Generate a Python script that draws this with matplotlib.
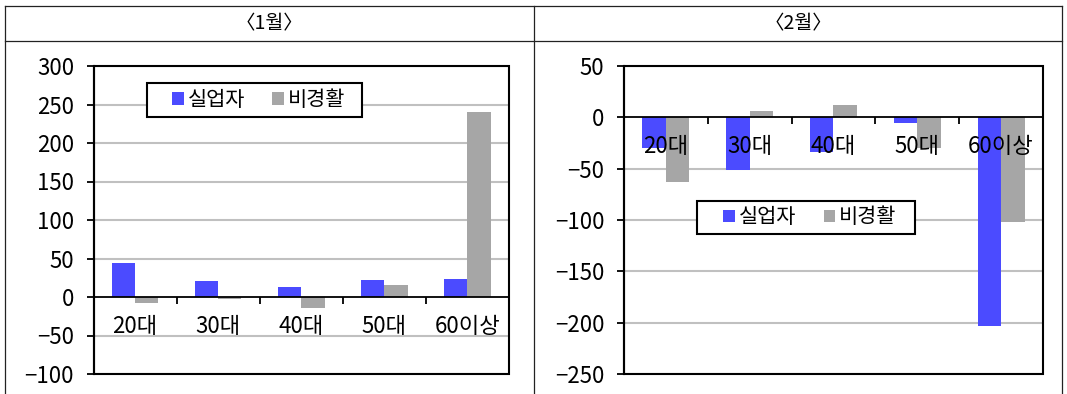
import numpy as np
import matplotlib
matplotlib.use("Agg")
import matplotlib.pyplot as plt
from matplotlib.lines import Line2D
from matplotlib.patches import Rectangle
from matplotlib.ticker import FixedLocator, NullFormatter

plt.rcParams['font.family'] = ['Noto Sans CJK KR', 'DejaVu Sans']
plt.rcParams['axes.unicode_minus'] = True

# data
categories = ["20대", "30대", "40대", "50대", "60이상"]
series_names = ["실업자", "비경활"]
jan_unemployed = [44, 21, 13, 22, 23]
jan_inactive = [-8, -2, -14, 16, 240]
feb_unemployed = [-30, -51, -34, -6, -203]
feb_inactive = [-63, 6, 12, -30, -102]
panel_titles = ["〈1월〉", "〈2월〉"]

BLUE = "#4b4bff"
GRAY = "#a6a6a6"

W, H = 1067, 394
fig = plt.figure(figsize=(W / 100, H / 100), dpi=100)


def px_axes(x0, x1, y0, y1):
    # pixel box -> figure fraction
    return fig.add_axes([x0 / W, 1 - y1 / H, (x1 - x0) / W, (y1 - y0) / H])


def draw_panel(ax, unemp, inact, ylim, step, legend_box):
    x = np.arange(len(categories))
    bw = 0.28
    ax.bar(x - bw / 2, unemp, bw, color=BLUE, label=series_names[0], zorder=2)
    ax.bar(x + bw / 2, inact, bw, color=GRAY, label=series_names[1], zorder=2)
    ax.set_xlim(-0.5, len(categories) - 0.5)
    ax.set_ylim(*ylim)
    yt = np.arange(ylim[0], ylim[1] + step, step)
    ax.set_yticks(yt)
    for v in yt:
        if v != 0:
            ax.axhline(v, color="#c0c0c0", lw=1.5, zorder=0)
    ax.set_axisbelow(False)

    # category axis sits on the zero line
    ax.spines['bottom'].set_position(('data', 0))
    ax.spines['bottom'].set_linewidth(1.3)
    ax.spines['bottom'].set_zorder(3)
    for s in ['top', 'right']:
        ax.spines[s].set_visible(False)
    ax.spines['left'].set_linewidth(1.5)
    ax.add_patch(Rectangle((0, 0), 1, 1, transform=ax.transAxes, fill=False,
                           lw=1.5, edgecolor="black", zorder=4, clip_on=False))

    ax.set_xticks(x)
    ax.set_xticklabels(categories)
    ax.xaxis.set_minor_locator(FixedLocator(np.arange(len(categories) + 1) - 0.5))
    ax.xaxis.set_minor_formatter(NullFormatter())
    ax.tick_params(axis='x', which='major', length=0, pad=13, labelsize=16)
    ax.tick_params(axis='x', which='minor', length=5, width=1.3, direction='out')
    ax.tick_params(axis='y', length=5, width=1.3, direction='out', pad=9, labelsize=16)
    for lab in ax.get_xticklabels():
        lab.set_zorder(5)

    # legend box drawn separately so the padding can be wider than tall
    bx, by, bwid, bht = legend_box
    ax.add_patch(Rectangle((bx, by), bwid, bht, transform=ax.transAxes, facecolor="white",
                           edgecolor="black", lw=1.5, zorder=6))
    leg = ax.legend(loc='center', bbox_to_anchor=(bx + bwid / 2 + 0.01, by + bht / 2), ncol=2,
                    frameon=False, fontsize=15,
                    handlelength=0.55, handleheight=0.55, handletextpad=0.2,
                    columnspacing=1.3, borderpad=0, borderaxespad=0)
    leg.set_zorder(7)


ax1 = px_axes(93.5, 509, 66, 374)
draw_panel(ax1, jan_unemployed, jan_inactive, (-100, 300), 50, (0.129, 0.834, 0.517, 0.111))

ax2 = px_axes(624, 1043, 66, 374)
draw_panel(ax2, feb_unemployed, feb_inactive, (-250, 50), 50, (0.174, 0.455, 0.520, 0.107))

# table frame around the two panels
lc = "#222222"
fig.add_artist(Line2D([5 / W, 1062 / W], [1 - 6 / H] * 2, color=lc, lw=0.9))
fig.add_artist(Line2D([5 / W, 1062 / W], [1 - 41 / H] * 2, color=lc, lw=0.9))
for xp in [5, 534, 1062]:
    fig.add_artist(Line2D([xp / W] * 2, [0, 1 - 6 / H], color=lc, lw=0.9))

fig.text(269.5 / W, 1 - 23.5 / H, panel_titles[0], ha='center', va='center', fontsize=14)
fig.text(798 / W, 1 - 23.5 / H, panel_titles[1], ha='center', va='center', fontsize=14)

fig.savefig("out.png", dpi=100)
